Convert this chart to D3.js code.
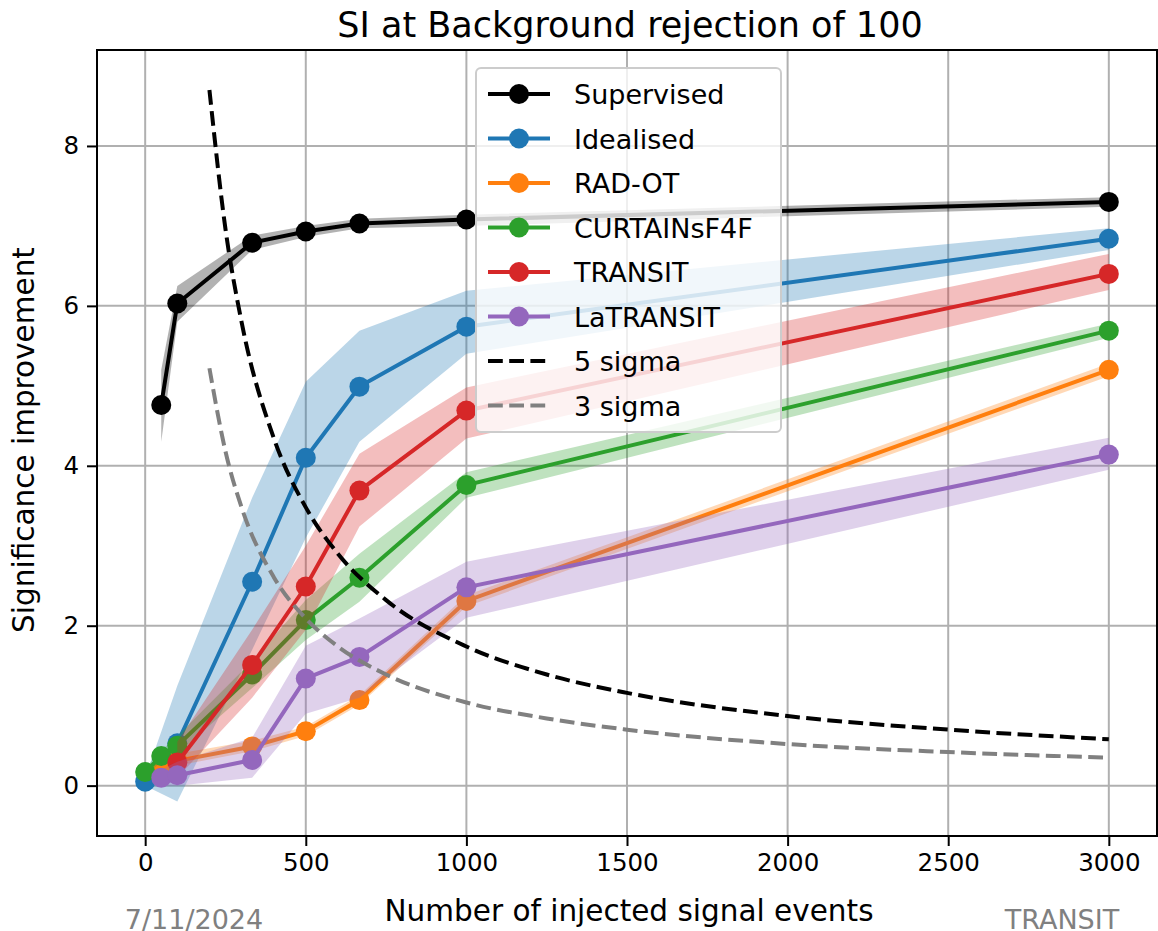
<!DOCTYPE html>
<html>
<head>
<meta charset="utf-8">
<script src="https://cdn.jsdelivr.net/npm/d3@7"></script>
<style>
  body { margin: 0; background: #fff; }
  text { font-family: "DejaVu Sans", sans-serif; }
</style>
</head>
<body>
<div id="graphic"></div>
<script>
// SI at background rejection of 100

// Data
let xSupervised = [50, 100, 333, 500, 667, 1000, 3000];
let ySupervised = [4.76, 6.03, 6.79, 6.93, 7.03, 7.08, 7.30];
let loSupervised = [4.30, 5.80, 6.70, 6.86, 6.97, 7.00, 7.24];
let hiSupervised = [5.20, 6.25, 6.88, 7.00, 7.09, 7.14, 7.36];

let xIdealised = [0, 100, 333, 500, 667, 1000, 3000];
let yIdealised = [0.05, 0.53, 2.55, 4.10, 4.99, 5.74, 6.84];
let loIdealised = [0.00, -0.20, 1.70, 3.10, 4.30, 5.40, 6.70];
let hiIdealised = [0.10, 1.25, 3.60, 5.05, 5.69, 6.19, 6.97];

let xRadot = [50, 100, 333, 500, 667, 1000, 3000];
let yRadot = [0.22, 0.31, 0.49, 0.68, 1.07, 2.31, 5.20];
let loRadot = [0.16, 0.25, 0.43, 0.62, 1.01, 2.24, 5.12];
let hiRadot = [0.30, 0.40, 0.56, 0.74, 1.13, 2.38, 5.28];

let xCurtains = [0, 50, 100, 333, 500, 667, 1000, 3000];
let yCurtains = [0.17, 0.37, 0.50, 1.39, 2.07, 2.60, 3.76, 5.69];
let loCurtains = [0.12, 0.30, 0.40, 1.22, 1.82, 2.30, 3.60, 5.60];
let hiCurtains = [0.22, 0.44, 0.62, 1.56, 2.32, 2.90, 3.92, 5.78];

let xTransit = [100, 333, 500, 667, 1000, 3000];
let yTransit = [0.29, 1.51, 2.49, 3.69, 4.69, 6.40];
let loTransit = [0.10, 1.10, 1.95, 3.24, 4.34, 6.20];
let hiTransit = [0.55, 1.95, 3.00, 4.15, 4.98, 6.65];

let xLatransit = [50, 100, 333, 500, 667, 1000, 3000];
let yLatransit = [0.10, 0.13, 0.32, 1.34, 1.61, 2.48, 4.14];
let loLatransit = [0.00, 0.00, 0.10, 0.90, 1.10, 2.10, 3.95];
let hiLatransit = [0.20, 0.30, 0.60, 1.75, 2.09, 2.80, 4.35];

// significance thresholds
let xSigma = [200, 250, 300, 400, 500, 600, 750, 1000, 1250, 1500, 2000, 2500, 3000];
let y5Sigma = [8.70, 6.96, 5.80, 4.35, 3.48, 2.90, 2.32, 1.74, 1.39, 1.16, 0.87, 0.70, 0.58];
let y3Sigma = [5.22, 4.18, 3.48, 2.61, 2.09, 1.74, 1.39, 1.04, 0.84, 0.70, 0.52, 0.42, 0.35];

let xTicks = [0, 500, 1000, 1500, 2000, 2500, 3000];
let yTicks = [0, 2, 4, 6, 8];

let series = [
  {name: "Supervised", color: "#000000", x: xSupervised, y: ySupervised, lo: loSupervised, hi: hiSupervised},
  {name: "Idealised", color: "#1f77b4", x: xIdealised, y: yIdealised, lo: loIdealised, hi: hiIdealised},
  {name: "RAD-OT", color: "#ff7f0e", x: xRadot, y: yRadot, lo: loRadot, hi: hiRadot},
  {name: "CURTAINsF4F", color: "#2ca02c", x: xCurtains, y: yCurtains, lo: loCurtains, hi: hiCurtains},
  {name: "TRANSIT", color: "#d62728", x: xTransit, y: yTransit, lo: loTransit, hi: hiTransit},
  {name: "LaTRANSIT", color: "#9467bd", x: xLatransit, y: yLatransit, lo: loLatransit, hi: hiLatransit}
];

let sigmas = [
  {name: "5 sigma", color: "#000000", y: y5Sigma},
  {name: "3 sigma", color: "#808080", y: y3Sigma}
];

// Frame
let W = 1158, H = 931;
let m = {left: 97, right: 1157, top: 50, bottom: 836};
let lw = 4, dash = "14.8,6.4";

let cadre = d3.select("#graphic")
  .append("svg")
  .attr("width", W)
  .attr("height", H);

let x = d3.scaleLinear().domain([-150, 3150]).range([m.left, m.right]);
let y = d3.scaleLinear().domain([-0.63, 9.2]).range([m.bottom, m.top]);

// Grid
let grid = cadre.append("g");
grid.selectAll(".gx").data(xTicks).enter().append("line")
  .attr("x1", d => x(d)).attr("x2", d => x(d))
  .attr("y1", m.top).attr("y2", m.bottom)
  .attr("stroke", "#b0b0b0").attr("stroke-width", 2);
grid.selectAll(".gy").data(yTicks).enter().append("line")
  .attr("y1", d => y(d)).attr("y2", d => y(d))
  .attr("x1", m.left).attr("x2", m.right)
  .attr("stroke", "#b0b0b0").attr("stroke-width", 2);

let plot = cadre.append("g");

// Bands then lines + markers
let area = d3.area()
  .x(d => x(d.x)).y0(d => y(d.lo)).y1(d => y(d.hi));
let line = d3.line().x(d => x(d.x)).y(d => y(d.y));

series.forEach(s => {
  let pts = s.x.map((v, i) => ({x: v, y: s.y[i], lo: s.lo[i], hi: s.hi[i]}));
  plot.append("path")
    .attr("d", area(pts))
    .attr("fill", s.color)
    .attr("fill-opacity", 0.3);
  plot.append("path")
    .attr("d", line(pts))
    .attr("fill", "none")
    .attr("stroke", s.color)
    .attr("stroke-width", lw);
  plot.selectAll(null).data(pts).enter().append("circle")
    .attr("cx", d => x(d.x)).attr("cy", d => y(d.y))
    .attr("r", 10)
    .attr("fill", s.color);
});

// Dashed sigma curves
let curve = d3.line().x(d => x(d.x)).y(d => y(d.y)).curve(d3.curveMonotoneX);
sigmas.forEach(s => {
  let pts = xSigma.map((v, i) => ({x: v, y: s.y[i]}));
  plot.append("path")
    .attr("d", curve(pts))
    .attr("fill", "none")
    .attr("stroke", s.color)
    .attr("stroke-width", lw)
    .attr("stroke-dasharray", dash);
});

// Axes
let xAxis = d3.axisBottom(x).tickValues(xTicks).tickSize(10).tickPadding(8).tickFormat(d3.format("d"));
let yAxis = d3.axisLeft(y).tickValues(yTicks).tickSize(10).tickPadding(8).tickFormat(d3.format("d"));

cadre.append("g")
  .attr("transform", `translate(0,${m.bottom})`)
  .attr("class", "axis")
  .call(xAxis);
cadre.append("g")
  .attr("transform", `translate(${m.left},0)`)
  .attr("class", "axis")
  .call(yAxis);

cadre.selectAll(".axis .domain").remove();
cadre.selectAll(".axis line").attr("stroke", "#000").attr("stroke-width", 2);
cadre.selectAll(".axis text").attr("font-size", 24.5).attr("fill", "#000")
  .style("font-family", "DejaVu Sans");

// Spines
cadre.append("rect")
  .attr("x", m.left).attr("y", m.top)
  .attr("width", m.right - m.left).attr("height", m.bottom - m.top)
  .attr("fill", "none").attr("stroke", "#000").attr("stroke-width", 2);

// Titles
cadre.append("text")
  .attr("x", 630).attr("y", 37)
  .attr("text-anchor", "middle").attr("font-size", 35)
  .text("SI at Background rejection of 100");

cadre.append("text")
  .attr("x", 629).attr("y", 921)
  .attr("text-anchor", "middle").attr("font-size", 29.5)
  .text("Number of injected signal events");

cadre.append("text")
  .attr("transform", `translate(34,${(m.top + m.bottom) / 2 - 3}) rotate(-90)`)
  .attr("text-anchor", "middle").attr("font-size", 29.5)
  .text("Significance improvement");

// Footer
cadre.append("text")
  .attr("x", 194).attr("y", 929)
  .attr("text-anchor", "middle").attr("font-size", 27).attr("fill", "#808080")
  .text("7/11/2024");
cadre.append("text")
  .attr("x", 1062).attr("y", 929)
  .attr("text-anchor", "middle").attr("font-size", 27).attr("fill", "#808080")
  .text("TRANSIT");

// Legend
let leg = cadre.append("g").attr("transform", "translate(476,68)");
leg.append("rect")
  .attr("width", 305).attr("height", 364).attr("rx", 5)
  .attr("fill", "#fff").attr("fill-opacity", 0.8)
  .attr("stroke", "#cccccc").attr("stroke-width", 2);

let entries = series.map(s => ({name: s.name, color: s.color, dashed: false}))
  .concat(sigmas.map(s => ({name: s.name, color: s.color, dashed: true})));

entries.forEach((e, i) => {
  let yy = 26 + i * 44.5;
  leg.append("line")
    .attr("x1", 12).attr("x2", 74)
    .attr("y1", yy).attr("y2", yy)
    .attr("stroke", e.color).attr("stroke-width", lw)
    .attr("stroke-dasharray", e.dashed ? dash : null);
  if (!e.dashed) {
    leg.append("circle").attr("cx", 43).attr("cy", yy).attr("r", 10).attr("fill", e.color);
  }
  leg.append("text")
    .attr("x", 98).attr("y", yy + 10)
    .attr("font-size", 27)
    .text(e.name);
});
</script>
</body>
</html>
